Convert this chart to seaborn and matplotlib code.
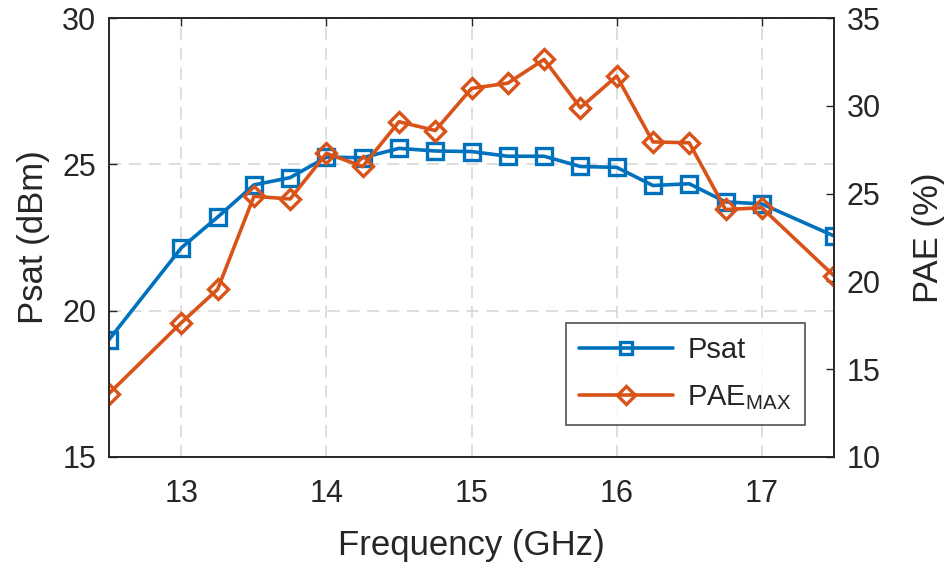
import numpy as np
import pandas as pd
import matplotlib.pyplot as plt
import seaborn as sns

# frequency points (GHz)
freq = [12.5, 13.0, 13.25, 13.5, 13.75, 14.0, 14.25, 14.5, 14.75, 15.0,
        15.25, 15.5, 15.75, 16.0, 16.25, 16.5, 16.75, 17.0, 17.5]
# saturated output power (dBm)
psat = [19.0, 22.15, 23.2, 24.3, 24.55, 25.25, 25.23, 25.55, 25.46, 25.44,
        25.28, 25.28, 24.93, 24.9, 24.28, 24.34, 23.72, 23.65, 22.55]
# peak PAE (%)
pae = [13.6, 17.65, 19.55, 24.85, 24.7, 27.3, 26.55, 29.1, 28.6, 31.0,
       31.3, 32.65, 29.9, 31.7, 27.95, 27.9, 24.1, 24.2, 20.3]

df = pd.DataFrame({"freq": freq, "psat": psat, "pae": pae})

blue = "#0072BD"
orange = "#D95319"

sns.set_style("white")
plt.rcParams['font.family'] = ['Liberation Sans', 'DejaVu Sans']
plt.rcParams['mathtext.fontset'] = 'custom'
plt.rcParams['mathtext.rm'] = 'Liberation Sans'

fig, ax = plt.subplots(figsize=(9.46, 5.69), dpi=100)
fig.subplots_adjust(left=0.115, right=0.882, top=0.968, bottom=0.197)
ax2 = ax.twinx()

sns.lineplot(data=df, x="freq", y="psat", ax=ax, color=blue, linewidth=2.6,
             marker="s", markersize=11, markerfacecolor="none",
             markeredgecolor=blue, markeredgewidth=2.4, label="Psat", legend=False)
sns.lineplot(data=df, x="freq", y="pae", ax=ax2, color=orange, linewidth=2.6,
             marker="D", markersize=10, markerfacecolor="none",
             markeredgecolor=orange, markeredgewidth=2.4,
             label=r"PAE$_\mathregular{MAX}$", legend=False)

ax.set_xlim(12.5, 17.5)
ax.set_ylim(15, 30)
ax2.set_ylim(10, 35)
ax.set_xticks([13, 14, 15, 16, 17])
ax.set_yticks([15, 20, 25, 30])
ax2.set_yticks([10, 15, 20, 25, 30, 35])

ax.grid(True, color="#d5d5d5", linestyle=(0, (8, 5)), linewidth=1.1)
ax.set_axisbelow(True)

ax.set_xlabel("Frequency (GHz)", fontsize=25, color="#262626", labelpad=14)
ax.set_ylabel("Psat (dBm)", fontsize=25, color="#262626", labelpad=9)
ax2.set_ylabel("PAE (%)", fontsize=25, color="#262626", labelpad=22)

for a in (ax, ax2):
    a.tick_params(direction="in", length=6, width=1, labelsize=22,
                  colors="#262626", top=False)
    for s in a.spines.values():
        s.set_color("#262626")
        s.set_linewidth(1.2)
ax.tick_params(axis="x", top=True, pad=16)
ax.tick_params(axis="y", pad=9)
ax2.tick_params(axis="y", pad=9)

h1, l1 = ax.get_legend_handles_labels()
h2, l2 = ax2.get_legend_handles_labels()
leg = ax2.legend(h1 + h2, l1 + l2, loc="lower right", bbox_to_anchor=(0.959, 0.073),
                 borderaxespad=0, fontsize=21, frameon=True, fancybox=False,
                 edgecolor="#262626", handlelength=3.2, handletextpad=0.5,
                 borderpad=0.45, labelspacing=0.65)
leg.get_frame().set_linewidth(1.2)
for h in leg.legend_handles:
    h.set_markersize(9)

fig.savefig("out.png", dpi=100)
